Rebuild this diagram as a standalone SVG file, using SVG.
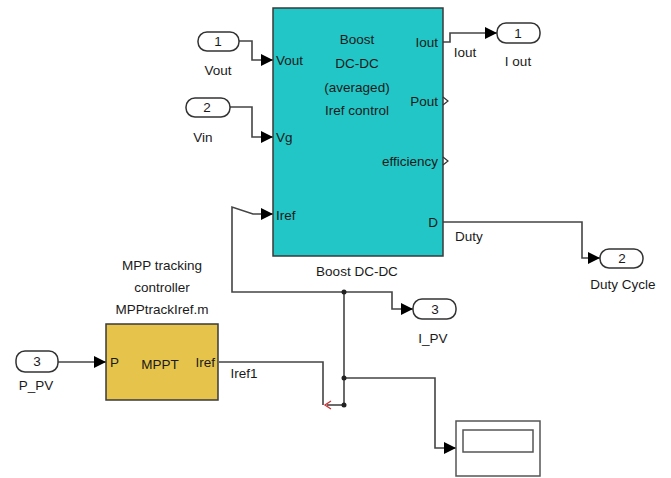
<svg xmlns="http://www.w3.org/2000/svg" width="671" height="478" viewBox="0 0 671 478">
<style>
  text { font-family: "Liberation Sans", Arial, sans-serif; font-size: 13.5px; fill: #1a1a1a; }
  .c { text-anchor: middle; }
  .r { text-anchor: end; }
  .port { fill: #fff; stroke: #333; stroke-width: 1.5; }
  .wire { fill: none; stroke: #444; stroke-width: 1.6; }
  .blk { stroke: #3a3a3a; stroke-width: 1.5; }
  .outp { fill: none; stroke: #333; stroke-width: 1.2; }
</style>
<defs>
  <marker id="arr" markerUnits="userSpaceOnUse" markerWidth="12" markerHeight="12" refX="10" refY="5" orient="auto" viewBox="0 0 10 10">
    <path d="M0,0 L10,5 L0,10 z" fill="#000"/>
  </marker>
</defs>

<g id="connectors">
  <polyline class="wire" points="239,41 252,41 252,60 273,60" marker-end="url(#arr)"/>
  <polyline class="wire" points="230,107 252,107 252,137 273,137" marker-end="url(#arr)"/>
  <polyline class="wire" points="443,42 450,42 450,33 497,33" marker-end="url(#arr)"/>
  <polyline class="wire" points="443,222 582,222 582,258 600,258" marker-end="url(#arr)"/>
  <polyline class="wire" points="58,362 106,362" marker-end="url(#arr)"/>
  <polyline class="wire" points="344,292 232,292 232,207 253,214 273,214" marker-end="url(#arr)"/>
  <polyline class="wire" points="344,292 392,292 392,309 413,309" marker-end="url(#arr)"/>
  <polyline class="wire" points="344,292 344,405"/>
  <polyline class="wire" points="344,378 435,378 435,448 456,448" marker-end="url(#arr)"/>
  <polyline class="wire" points="219,362 323,362 323,405"/>
  <polyline class="wire" points="344,405 327,405"/>
  <path d="M331,401 L325,405 L331,409" fill="none" stroke="#d03030" stroke-width="1.3"/>
  <circle cx="344" cy="292" r="2.5" fill="#222"/>
  <circle cx="344" cy="378" r="2.5" fill="#222"/>
  <circle cx="344" cy="405" r="2.5" fill="#222"/>
  <text x="465" y="57" class="c">Iout</text>
  <text x="469" y="241" class="c">Duty</text>
  <text x="244" y="378" class="c">Iref1</text>
</g>

<g id="boost">
  <rect x="273" y="8" width="170" height="248" fill="#22C6C6" class="blk"/>
  <text x="357" y="44" class="c">Boost</text>
  <text x="357" y="68" class="c">DC-DC</text>
  <text x="357" y="92" class="c">(averaged)</text>
  <text x="357" y="115" class="c">Iref control</text>
  <text x="276" y="65">Vout</text>
  <text x="276" y="142">Vg</text>
  <text x="276" y="220">Iref</text>
  <text x="438" y="47" class="r">Iout</text>
  <text x="438" y="106" class="r">Pout</text>
  <text x="438" y="166" class="r">efficiency</text>
  <text x="438" y="227" class="r">D</text>
  <path class="outp" d="M443,97 L448,101 L443,105"/>
  <path class="outp" d="M443,157 L448,161 L443,165"/>
  <text x="357" y="276" class="c">Boost DC-DC</text>
</g>

<g id="in1">
  <rect x="198" y="32" width="41" height="19" rx="9" class="port"/>
  <text x="218" y="46" class="c">1</text>
  <text x="218" y="75" class="c">Vout</text>
</g>

<g id="in2">
  <rect x="186" y="98" width="44" height="19" rx="9" class="port"/>
  <text x="207" y="112" class="c">2</text>
  <text x="203" y="142" class="c">Vin</text>
</g>

<g id="out1">
  <rect x="497" y="23" width="43" height="20" rx="9" class="port"/>
  <text x="518" y="38" class="c">1</text>
  <text x="518" y="66" class="c">I out</text>
</g>

<g id="out2">
  <rect x="600" y="249" width="43" height="19" rx="9" class="port"/>
  <text x="622" y="263" class="c">2</text>
  <text x="623" y="289" class="c">Duty Cycle</text>
</g>

<g id="out3">
  <rect x="413" y="299" width="43" height="20" rx="9" class="port"/>
  <text x="435" y="314" class="c">3</text>
  <text x="433" y="343" class="c">I_PV</text>
</g>

<g id="in3">
  <rect x="16" y="351" width="42" height="21" rx="9" class="port"/>
  <text x="37" y="366" class="c">3</text>
  <text x="36" y="390" class="c">P_PV</text>
</g>

<g id="mppt">
  <text x="162" y="270" class="c">MPP tracking</text>
  <text x="162" y="292" class="c">controller</text>
  <text x="162" y="314" class="c">MPPtrackIref.m</text>
  <rect x="106" y="324" width="112" height="76" fill="#E6C44B" class="blk"/>
  <text x="110" y="367">P</text>
  <text x="160" y="369" class="c">MPPT</text>
  <text x="215" y="367" class="r">Iref</text>
</g>

<g id="display">
  <rect x="456" y="421" width="84" height="55" fill="#fff" stroke="#555" stroke-width="1.5"/>
  <rect x="463" y="430" width="70" height="22" fill="#fff" stroke="#555" stroke-width="1.5"/>
</g>
</svg>
